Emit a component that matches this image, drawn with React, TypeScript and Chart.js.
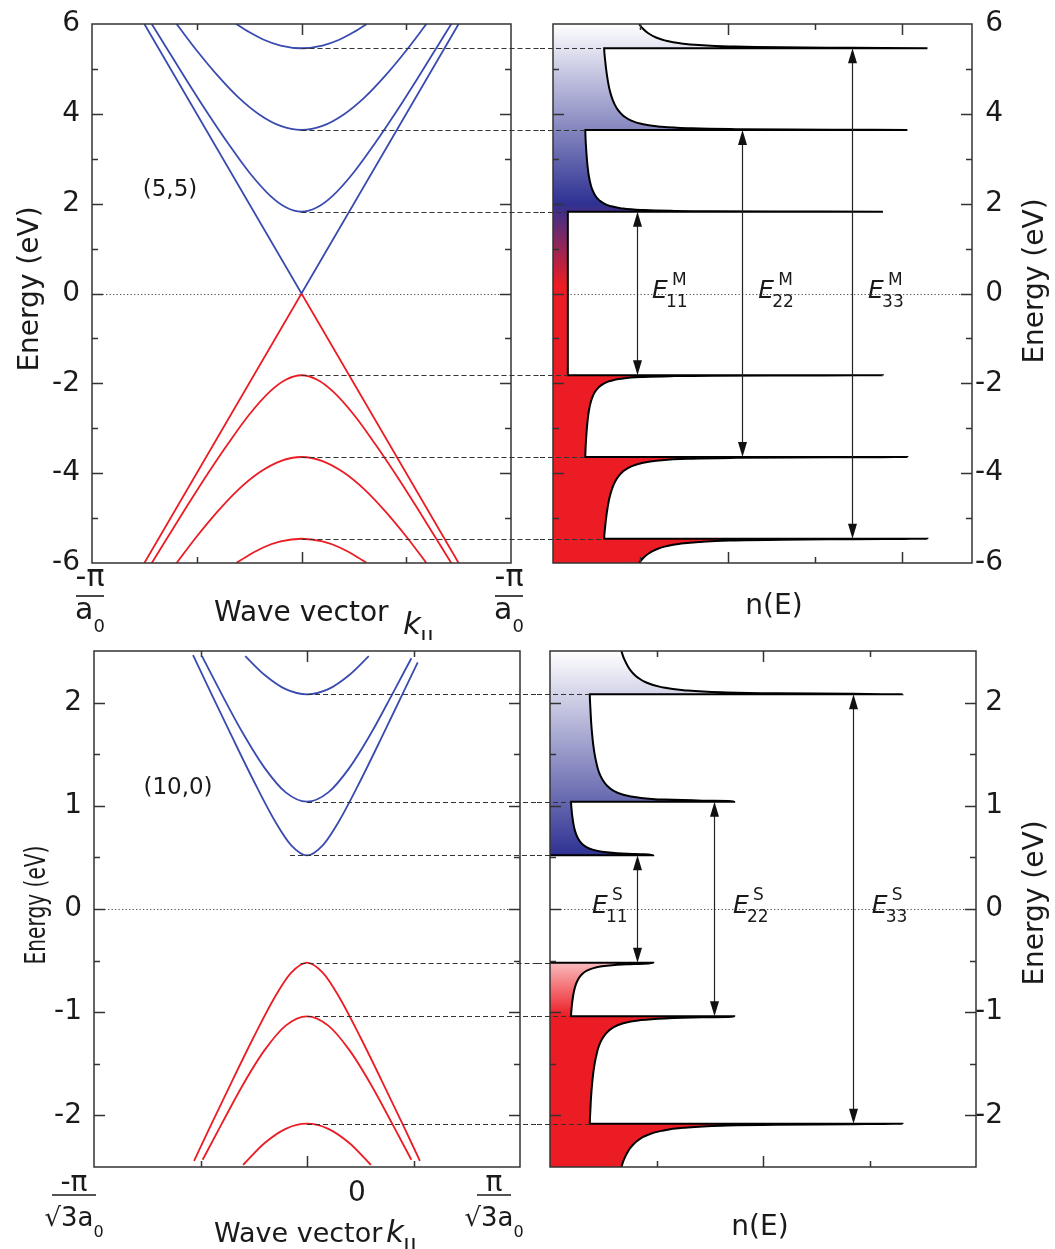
import React, { useEffect, useRef } from 'react';
import { Chart, registerables } from 'chart.js';

Chart.register(...registerables);

// ===================== DATA =====================
// ---- (5,5) tube: band structure (k in units of pi/a0, E in eV) ----
const armTicksY = [-6, -4, -2, 0, 2, 4, 6];
const armC0K = [-0.75, 0, 0.75];
const armC0E = [6.0, 0.0, 6.0];
const armV0K = [-0.75, 0, 0.75];
const armV0E = [-6.0, 0.0, -6.0];
const armC1K = [-0.715, -0.65, -0.55, -0.45, -0.35, -0.25, -0.15, -0.075, 0, 0.075, 0.15, 0.25, 0.35, 0.45, 0.55, 0.65, 0.715];
const armC1E = [6.0, 5.51, 4.76, 4.03, 3.34, 2.70, 2.18, 1.92, 1.82, 1.92, 2.18, 2.70, 3.34, 4.03, 4.76, 5.51, 6.0];
const armV1K = [-0.715, -0.65, -0.55, -0.45, -0.35, -0.25, -0.15, -0.075, 0, 0.075, 0.15, 0.25, 0.35, 0.45, 0.55, 0.65, 0.715];
const armV1E = [-6.0, -5.51, -4.76, -4.03, -3.34, -2.70, -2.18, -1.92, -1.82, -1.92, -2.18, -2.70, -3.34, -4.03, -4.76, -5.51, -6.0];
const armC2K = [-0.596, -0.5, -0.4, -0.3, -0.2, -0.1, 0, 0.1, 0.2, 0.3, 0.4, 0.5, 0.596];
const armC2E = [6.0, 5.41, 4.85, 4.36, 3.98, 3.73, 3.64, 3.73, 3.98, 4.36, 4.85, 5.41, 6.0];
const armV2K = [-0.596, -0.5, -0.4, -0.3, -0.2, -0.1, 0, 0.1, 0.2, 0.3, 0.4, 0.5, 0.596];
const armV2E = [-6.0, -5.41, -4.85, -4.36, -3.98, -3.73, -3.64, -3.73, -3.98, -4.36, -4.85, -5.41, -6.0];
const armC3K = [-0.311, -0.25, -0.18, -0.1, 0, 0.1, 0.18, 0.25, 0.311];
const armC3E = [6.0, 5.82, 5.65, 5.52, 5.46, 5.52, 5.65, 5.82, 6.0];
const armV3K = [-0.311, -0.25, -0.18, -0.1, 0, 0.1, 0.18, 0.25, 0.311];
const armV3E = [-6.0, -5.82, -5.65, -5.52, -5.46, -5.52, -5.65, -5.82, -6.0];

// ---- (5,5) tube: density of states outline (n in arb. units, E in eV) ----
const armDosN = [
  0.986, 1.028, 1.087, 1.18, 1.289, 1.456, 1.674, 2.021, 2.612, 3.448, 4.29,
  0.586, 0.597, 0.615, 0.641, 0.660, 0.686, 0.709, 0.739, 0.782, 0.81, 0.897, 1.009, 1.207, 1.546, 2.03, 2.71, 3.67, 4.06,
  0.37, 0.372, 0.377, 0.388, 0.398, 0.412, 0.435, 0.453, 0.478, 0.517, 0.546, 0.587, 0.652, 0.773, 1.009, 1.346, 1.83, 2.51, 3.78,
  0.17, 0.17,
  3.78, 2.51, 1.83, 1.346, 1.009, 0.773, 0.652, 0.587, 0.546, 0.517, 0.478, 0.453, 0.435, 0.412, 0.398, 0.388, 0.377, 0.372, 0.37,
  4.06, 3.67, 2.71, 2.03, 1.546, 1.207, 1.009, 0.897, 0.81, 0.782, 0.739, 0.709, 0.686, 0.660, 0.641, 0.615, 0.597, 0.586,
  4.29, 3.448, 2.612, 2.021, 1.674, 1.456, 1.289, 1.18, 1.087, 1.028, 0.986,
];
const armDosE = [
  -6.0, -5.9, -5.8, -5.7, -5.63, -5.57, -5.53, -5.5, -5.48, -5.47, -5.46,
  -5.46, -5.2, -4.9, -4.6, -4.45, -4.3, -4.2, -4.1, -4.0, -3.95, -3.85, -3.78, -3.72, -3.68, -3.66, -3.65, -3.645, -3.64,
  -3.64, -3.5, -3.3, -3.0, -2.8, -2.6, -2.4, -2.3, -2.2, -2.1, -2.05, -2.0, -1.95, -1.9, -1.86, -1.84, -1.83, -1.825, -1.82,
  -1.82, 1.82,
  1.82, 1.825, 1.83, 1.84, 1.86, 1.9, 1.95, 2.0, 2.05, 2.1, 2.2, 2.3, 2.4, 2.6, 2.8, 3.0, 3.3, 3.5, 3.64,
  3.64, 3.645, 3.65, 3.66, 3.68, 3.72, 3.78, 3.85, 3.95, 4.0, 4.1, 4.2, 4.3, 4.45, 4.6, 4.9, 5.2, 5.46,
  5.46, 5.47, 5.48, 5.5, 5.53, 5.57, 5.63, 5.7, 5.8, 5.9, 6.0,
];
const armEdgeE = [5.46, 3.64, 1.82, -1.82, -3.64, -5.46];
const armEdgeN = [0.586, 0.37, 0.17, 0.17, 0.37, 0.586];
const armArrowN = [0.96, 2.165, 3.425];
const armArrowE = [1.82, 3.64, 5.46];
const armLabelN = [1.134, 2.35, 3.61];
const armLabelSub = ['11', '22', '33'];

// ---- (10,0) tube: band structure (k in units of pi/(sqrt3 a0), E in eV) ----
const zigTicksY = [-2, -1, 0, 1, 2];
const zigC1K = [-0.535, -0.45, -0.35, -0.25, -0.15, -0.075, 0, 0.075, 0.15, 0.25, 0.35, 0.45, 0.52];
const zigC1E = [2.46, 2.09, 1.66, 1.24, 0.85, 0.62, 0.52, 0.62, 0.85, 1.24, 1.66, 2.09, 2.39];
const zigV1K = [-0.53, -0.45, -0.35, -0.25, -0.15, -0.075, 0, 0.075, 0.15, 0.25, 0.35, 0.45, 0.53];
const zigV1E = [-2.44, -2.09, -1.66, -1.24, -0.85, -0.62, -0.52, -0.62, -0.85, -1.24, -1.66, -2.09, -2.44];
const zigC2K = [-0.493, -0.4, -0.3, -0.2, -0.1, 0, 0.1, 0.2, 0.3, 0.4, 0.49];
const zigC2E = [2.45, 2.08, 1.70, 1.37, 1.13, 1.04, 1.13, 1.37, 1.70, 2.08, 2.43];
const zigV2K = [-0.49, -0.4, -0.3, -0.2, -0.1, 0, 0.1, 0.2, 0.3, 0.4, 0.49];
const zigV2E = [-2.43, -2.08, -1.70, -1.37, -1.13, -1.04, -1.13, -1.37, -1.70, -2.08, -2.43];
const zigC3K = [-0.29, -0.2, -0.1, 0, 0.1, 0.2, 0.29];
const zigC3E = [2.45, 2.27, 2.13, 2.08, 2.13, 2.27, 2.45];
const zigV3K = [-0.3, -0.2, -0.1, 0, 0.1, 0.2, 0.3];
const zigV3E = [-2.48, -2.27, -2.13, -2.08, -2.13, -2.27, -2.48];

// ---- (10,0) tube: density of states outline ----
const zigDosCondN = [0, 0.97, 0.882, 0.726, 0.633, 0.488, 0.4, 0.342, 0.313, 0.284, 0.255, 0.237, 0.2245, 0.209, 0.202, 0.1976, 0.197,
  1.73, 1.674, 1.435, 1.078, 0.827, 0.681, 0.591, 0.531, 0.495, 0.47, 0.452, 0.439, 0.419, 0.405, 0.395, 0.387, 0.379, 0.374, 0.374,
  3.31, 2.838, 2.119, 1.611, 1.254, 1.045, 0.893, 0.828, 0.793, 0.758, 0.732, 0.693, 0.67];
const zigDosCondE = [0.52, 0.52, 0.53, 0.535, 0.54, 0.555, 0.575, 0.6, 0.62, 0.65, 0.7, 0.75, 0.8, 0.9, 0.97, 1.03, 1.04,
  1.04, 1.047, 1.05, 1.06, 1.08, 1.11, 1.15, 1.2, 1.25, 1.3, 1.35, 1.4, 1.5, 1.6, 1.7, 1.8, 1.95, 2.07, 2.08,
  2.08, 2.085, 2.09, 2.1, 2.12, 2.15, 2.2, 2.24, 2.27, 2.31, 2.35, 2.43, 2.5];
const zigDosValN = [0.67, 0.693, 0.732, 0.758, 0.793, 0.828, 0.893, 1.045, 1.254, 1.611, 2.119, 2.838, 3.31,
  0.374, 0.374, 0.379, 0.387, 0.395, 0.405, 0.419, 0.439, 0.452, 0.47, 0.495, 0.531, 0.591, 0.681, 0.827, 1.078, 1.435, 1.674, 1.73,
  0.197, 0.1976, 0.202, 0.209, 0.2245, 0.237, 0.255, 0.284, 0.313, 0.342, 0.4, 0.488, 0.633, 0.726, 0.882, 0.97, 0];
const zigDosValE = [-2.5, -2.43, -2.35, -2.31, -2.27, -2.24, -2.2, -2.15, -2.12, -2.1, -2.09, -2.085, -2.08,
  -2.08, -2.07, -1.95, -1.8, -1.7, -1.6, -1.5, -1.4, -1.35, -1.3, -1.25, -1.2, -1.15, -1.11, -1.08, -1.06, -1.05, -1.047, -1.04,
  -1.04, -1.03, -0.97, -0.9, -0.8, -0.75, -0.7, -0.65, -0.62, -0.6, -0.575, -0.555, -0.54, -0.535, -0.53, -0.52, -0.52];
const zigEdgeE = [2.08, 1.04, 0.52, -0.52, -1.04, -2.08];
const zigEdgeN = [0.374, 0.197, 0, 0, 0.197, 0.374];
const zigEdgeK = [0, 0, -0.08, -0.03, 0, 0];
const zigArrowN = [0.817, 1.54, 2.845];
const zigArrowE = [0.52, 1.04, 2.08];
const zigLabelN = [0.394, 1.718, 3.02];
const zigLabelSub = ['11', '22', '33'];

// ===================== STYLE =====================
const FONT = '"DejaVu Sans", "Liberation Sans", sans-serif';
const INK = '#1a1a1a';
const BLUE = '#3a4bb0';
const RED = '#ec1c24';
const NAVY = '#2e3192';

const pts = (xs: number[], ys: number[]) => xs.map((v, i) => ({ x: v, y: ys[i] }));

function band(xs: number[], ys: number[], color: string, straight = false) {
  return {
    data: pts(xs, ys),
    borderColor: color,
    borderWidth: 1.8,
    pointRadius: 0,
    fill: false,
    tension: 0,
    cubicInterpolationMode: straight ? 'default' : 'monotone',
  };
}

function gradient(stopsE: number[], stopsC: string[]) {
  return (c: any) => {
    const chart = c.chart;
    const { ctx, chartArea, scales } = chart;
    if (!chartArea) return 'rgba(0,0,0,0)';
    const y = scales.y;
    const g = ctx.createLinearGradient(0, chartArea.top, 0, chartArea.bottom);
    const h = chartArea.bottom - chartArea.top;
    stopsE.forEach((e, i) => {
      const off = Math.min(1, Math.max(0, (y.getPixelForValue(e) - chartArea.top) / h));
      g.addColorStop(off, stopsC[i]);
    });
    return g;
  };
}

function txt(ctx: any, s: string, x: number, y: number, size: number, o: any = {}) {
  ctx.save();
  ctx.font = `${o.italic ? 'italic ' : ''}${o.bold ? 'bold ' : ''}${size}px ${FONT}`;
  ctx.fillStyle = INK;
  ctx.textAlign = o.align || 'left';
  ctx.textBaseline = o.baseline || 'alphabetic';
  ctx.translate(x, y);
  if (o.rot) ctx.rotate(o.rot);
  if (o.sx) ctx.scale(o.sx, 1);
  ctx.fillText(s, 0, 0);
  ctx.restore();
}

function frac(ctx: any, cx: number, barY: number, half: number, num: string, den: string, sub: string, f: any) {
  txt(ctx, num, cx, barY + f.numDy, f.numSize, { align: 'center' });
  ctx.save();
  ctx.strokeStyle = INK;
  ctx.lineWidth = 1.6;
  ctx.beginPath();
  ctx.moveTo(cx - half, barY);
  ctx.lineTo(cx + half, barY);
  ctx.stroke();
  ctx.font = `${f.denSize}px ${FONT}`;
  const wd = ctx.measureText(den).width;
  ctx.font = `${f.subSize}px ${FONT}`;
  const ws = ctx.measureText(sub).width;
  ctx.restore();
  const x0 = cx - (wd + ws) / 2;
  txt(ctx, den, x0, barY + f.denDy, f.denSize);
  txt(ctx, sub, x0 + wd, barY + f.subDy, f.subSize);
}

function eLabel(ctx: any, xl: number, base: number, sup: string, sub: string) {
  txt(ctx, 'E', xl, base, 25, { italic: true });
  txt(ctx, sup, xl + 20, base - 13, 17);
  txt(ctx, sub, xl + 14, base + 9, 17);
}

function decor(p: any) {
  return {
    id: 'decor',
    beforeDatasetsDraw(chart: any) {
      const { ctx, chartArea: a, scales } = chart;
      const y0 = Math.round(scales.y.getPixelForValue(0)) + 0.5;
      ctx.save();
      ctx.strokeStyle = '#555';
      ctx.lineWidth = 1;
      ctx.setLineDash([1.3, 2.2]);
      ctx.beginPath();
      ctx.moveTo(a.left, y0);
      ctx.lineTo(a.right, y0);
      ctx.stroke();
      ctx.restore();
    },
    afterDatasetsDraw(chart: any) {
      const { ctx, scales: { x, y } } = chart;
      const W = chart.width;
      ctx.save();
      ctx.strokeStyle = '#333';
      ctx.lineWidth = 1;
      ctx.setLineDash([5, 3]);
      (p.dashes || []).forEach((d: any) => {
        const py = Math.round(y.getPixelForValue(d.e)) + 0.5;
        const x1 = d.from === null ? 0 : x.getPixelForValue(d.from);
        const x2 = d.to === null ? W : x.getPixelForValue(d.to);
        ctx.beginPath();
        ctx.moveTo(x1, py);
        ctx.lineTo(x2, py);
        ctx.stroke();
      });
      ctx.setLineDash([]);
      (p.arrows || []).forEach((ar: any) => {
        const px = Math.round(x.getPixelForValue(ar.n)) + 0.5;
        const yt = y.getPixelForValue(ar.e);
        const yb = y.getPixelForValue(-ar.e);
        const hl = 15, hw = 4.5;
        ctx.strokeStyle = '#222';
        ctx.fillStyle = '#111';
        ctx.lineWidth = 1.2;
        ctx.beginPath();
        ctx.moveTo(px, yt + hl - 2);
        ctx.lineTo(px, yb - hl + 2);
        ctx.stroke();
        ctx.beginPath();
        ctx.moveTo(px, yt);
        ctx.lineTo(px - hw, yt + hl);
        ctx.lineTo(px + hw, yt + hl);
        ctx.closePath();
        ctx.fill();
        ctx.beginPath();
        ctx.moveTo(px, yb);
        ctx.lineTo(px - hw, yb - hl);
        ctx.lineTo(px + hw, yb - hl);
        ctx.closePath();
        ctx.fill();
      });
      ctx.restore();
    },
    afterDraw(chart: any) {
      const { ctx, chartArea: a, scales: { x, y } } = chart;
      ctx.save();
      ctx.strokeStyle = '#333';
      ctx.lineWidth = 1.5;
      ctx.strokeRect(a.left, a.top, a.right - a.left, a.bottom - a.top);
      const t = p.ticks;
      const yt = (v: number, len: number) => {
        const py = Math.round(y.getPixelForValue(v)) + 0.5;
        ctx.beginPath();
        ctx.moveTo(a.left, py); ctx.lineTo(a.left + len, py);
        ctx.moveTo(a.right, py); ctx.lineTo(a.right - len, py);
        ctx.stroke();
      };
      const xt = (v: number, len: number) => {
        const px = Math.round(x.getPixelForValue(v)) + 0.5;
        ctx.beginPath();
        ctx.moveTo(px, a.top); ctx.lineTo(px, a.top + len);
        ctx.moveTo(px, a.bottom); ctx.lineTo(px, a.bottom - len);
        ctx.stroke();
      };
      t.yMajor.forEach((v: number) => yt(v, 11));
      t.yMinor.forEach((v: number) => yt(v, 6));
      t.xMajor.forEach((v: number) => xt(v, 11));
      t.xMinor.forEach((v: number) => xt(v, 6));
      ctx.restore();
      if (p.texts) p.texts(ctx, chart, (v: number) => v - p.ox, (v: number) => v - p.oy);
    },
  };
}

function yAxis(min: number, max: number, ticks: number[], position: string, width: number) {
  return {
    type: 'linear',
    min,
    max,
    position,
    grid: { display: false, drawTicks: false },
    border: { display: false },
    ticks: {
      color: INK,
      font: { family: FONT, size: 28 },
      padding: 12,
      crossAlign: position === 'left' ? 'near' : 'far',
      callback: (v: number) => String(v),
    },
    afterBuildTicks: (s: any) => { s.ticks = ticks.map((v) => ({ value: v })); },
    afterFit: (s: any) => { s.width = width; s.paddingTop = 0; s.paddingBottom = 0; },
  };
}

function baseOptions(padding: any, scales: any, extra: any = {}) {
  return {
    animation: false,
    responsive: false,
    maintainAspectRatio: false,
    devicePixelRatio: 1,
    events: [],
    layout: { padding },
    plugins: { legend: { display: false }, tooltip: { enabled: false }, title: { display: false } },
    scales,
    ...extra,
  };
}

function kLabel(ctx: any, X: any, Y: any, x: number, base: number) {
  txt(ctx, 'k', X(x), Y(base), 31, { italic: true });
  txt(ctx, '||', X(x + 17), Y(base + 11), 19, { bold: true });
}

// ----- chart configs -----
function cfgTL(): any {
  return {
    type: 'line',
    data: {
      datasets: [
        band(armC0K, armC0E, BLUE, true), band(armC1K, armC1E, BLUE), band(armC2K, armC2E, BLUE), band(armC3K, armC3E, BLUE),
        band(armV0K, armV0E, RED, true), band(armV1K, armV1E, RED), band(armV2K, armV2E, RED), band(armV3K, armV3E, RED),
      ],
    },
    options: baseOptions({ left: 0, top: 24, right: 29, bottom: 77 }, {
      x: { type: 'linear', min: -1, max: 1, display: false },
      y: yAxis(-6, 6, armTicksY, 'left', 92),
    }),
    plugins: [decor({
      ox: 0, oy: 0,
      ticks: { yMajor: [-4, -2, 0, 2, 4], yMinor: [-5, -3, -1, 1, 3, 5], xMajor: [0], xMinor: [-0.5, 0.5] },
      dashes: armEdgeE.map((e) => ({ e, from: 0, to: null })),
      texts: (ctx: any, chart: any, X: any, Y: any) => {
        txt(ctx, 'Energy (eV)', X(31), Y(289), 28, { align: 'center', baseline: 'middle', rot: -Math.PI / 2 });
        const f = { numSize: 30, numDy: -10, denSize: 30, denDy: 23, subSize: 18, subDy: 36 };
        frac(ctx, X(90), Y(596), 14, '-\u03c0', 'a', '0', f);
        frac(ctx, X(509), Y(596), 14, '-\u03c0', 'a', '0', f);
        txt(ctx, 'Wave vector', X(214), Y(621), 28);
        kLabel(ctx, X, Y, 403, 634);
        txt(ctx, '(5,5)', X(170), Y(196), 23, { align: 'center' });
      },
    })],
  };
}

function cfgTR(): any {
  return {
    type: 'line',
    data: {
      datasets: [{
        data: pts(armDosN, armDosE),
        borderColor: '#000',
        borderWidth: 2,
        pointRadius: 0,
        tension: 0,
        cubicInterpolationMode: 'monotone',
        fill: { value: 0 },
        backgroundColor: gradient([6, 2.0, 0.2, -6], ['#ffffff', NAVY, RED, RED]),
      }],
    },
    options: baseOptions({ left: 13, top: 24, right: 52, bottom: 77 }, {
      x: { type: 'linear', min: 0, max: 4.8, display: false },
      y: yAxis(-6, 6, armTicksY, 'right', 31),
    }, { indexAxis: 'y' }),
    plugins: [decor({
      ox: 540, oy: 0,
      ticks: { yMajor: [-4, -2, 0, 2, 4], yMinor: [-5, -3, -1, 1, 3, 5], xMajor: [2, 4], xMinor: [1, 3] },
      dashes: armEdgeE.map((e, i) => ({ e, from: null, to: armEdgeN[i] })),
      arrows: armArrowN.map((n, i) => ({ n, e: armArrowE[i] })),
      texts: (ctx: any, chart: any, X: any, Y: any) => {
        const x = chart.scales.x;
        armLabelN.forEach((n, i) => eLabel(ctx, x.getPixelForValue(n), Y(298), 'M', armLabelSub[i]));
        txt(ctx, 'n(E)', X(774), Y(614), 28, { align: 'center' });
        txt(ctx, 'Energy (eV)', X(1036), Y(281), 28, { align: 'center', baseline: 'middle', rot: -Math.PI / 2 });
      },
    })],
  };
}

function cfgBL(): any {
  return {
    type: 'line',
    data: {
      datasets: [
        band(zigC1K, zigC1E, BLUE), band(zigC2K, zigC2E, BLUE), band(zigC3K, zigC3E, BLUE),
        band(zigV1K, zigV1E, RED), band(zigV2K, zigV2E, RED), band(zigV3K, zigV3E, RED),
      ],
    },
    options: baseOptions({ left: 0, top: 11, right: 17, bottom: 82 }, {
      x: { type: 'linear', min: -1, max: 1, display: false },
      y: yAxis(-2.5, 2.5, zigTicksY, 'left', 94),
    }),
    plugins: [decor({
      ox: 0, oy: 640,
      ticks: { yMajor: [-2, -1, 0, 1, 2], yMinor: [-1.5, -0.5, 0.5, 1.5], xMajor: [0], xMinor: [-0.5, 0.5] },
      dashes: zigEdgeE.map((e, i) => ({ e, from: zigEdgeK[i], to: null })),
      texts: (ctx: any, chart: any, X: any, Y: any) => {
        txt(ctx, 'Energy (eV)', X(38), Y(905), 28, { align: 'center', baseline: 'middle', rot: -Math.PI / 2, sx: 0.72 });
        const f = { numSize: 28, numDy: -4, denSize: 26, denDy: 31, subSize: 16, subDy: 42 };
        frac(ctx, X(74), Y(1195), 22, '-\u03c0', '\u221a3a', '0', f);
        frac(ctx, X(494), Y(1195), 17, '\u03c0', '\u221a3a', '0', f);
        txt(ctx, '0', X(357), Y(1201), 28, { align: 'center' });
        txt(ctx, 'Wave vector', X(214), Y(1242), 27);
        kLabel(ctx, X, Y, 386, 1242);
        txt(ctx, '(10,0)', X(178), Y(794), 23, { align: 'center' });
      },
    })],
  };
}

function cfgBR(): any {
  const common = { borderColor: '#000', borderWidth: 2, pointRadius: 0, tension: 0, cubicInterpolationMode: 'monotone', fill: { value: 0 } };
  return {
    type: 'line',
    data: {
      datasets: [
        { ...common, data: pts(zigDosCondN, zigDosCondE), backgroundColor: gradient([2.5, 0.52], ['#ffffff', NAVY]) },
        { ...common, data: pts(zigDosValN, zigDosValE), backgroundColor: gradient([-0.3, -1.04, -2.5], ['#ffffff', RED, RED]) },
      ],
    },
    options: baseOptions({ left: 13, top: 11, right: 52, bottom: 82 }, {
      x: { type: 'linear', min: 0, max: 4, display: false },
      y: yAxis(-2.5, 2.5, zigTicksY, 'right', 27),
    }, { indexAxis: 'y' }),
    plugins: [decor({
      ox: 537, oy: 640,
      ticks: { yMajor: [-2, -1, 0, 1, 2], yMinor: [-1.5, -0.5, 0.5, 1.5], xMajor: [2], xMinor: [1, 3] },
      dashes: zigEdgeE.map((e, i) => ({ e, from: null, to: zigEdgeN[i] })),
      arrows: zigArrowN.map((n, i) => ({ n, e: zigArrowE[i] })),
      texts: (ctx: any, chart: any, X: any, Y: any) => {
        const x = chart.scales.x;
        zigLabelN.forEach((n, i) => eLabel(ctx, x.getPixelForValue(n), Y(913), 'S', zigLabelSub[i]));
        txt(ctx, 'n(E)', X(760), Y(1235), 28, { align: 'center' });
        txt(ctx, 'Energy (eV)', X(1036), Y(903), 28, { align: 'center', baseline: 'middle', rot: -Math.PI / 2 });
      },
    })],
  };
}

export default function App() {
  const tl = useRef<HTMLCanvasElement>(null);
  const tr = useRef<HTMLCanvasElement>(null);
  const bl = useRef<HTMLCanvasElement>(null);
  const br = useRef<HTMLCanvasElement>(null);

  useEffect(() => {
    const charts = [
      new Chart(tl.current as any, cfgTL()),
      new Chart(tr.current as any, cfgTR()),
      new Chart(bl.current as any, cfgBL()),
      new Chart(br.current as any, cfgBR()),
    ];
    return () => charts.forEach((c) => c.destroy());
  }, []);

  const cv = (left: number, top: number, w: number, h: number) => ({
    position: 'absolute' as const, left, top, width: w, height: h,
  });

  return (
    <div style={{ position: 'absolute', left: 0, top: 0, width: 1055, height: 1249, background: '#fff', overflow: 'hidden' }}>
      <canvas ref={tl} width={540} height={640} style={cv(0, 0, 540, 640)} />
      <canvas ref={tr} width={515} height={640} style={cv(540, 0, 515, 640)} />
      <canvas ref={bl} width={537} height={609} style={cv(0, 640, 537, 609)} />
      <canvas ref={br} width={518} height={609} style={cv(537, 640, 518, 609)} />
    </div>
  );
}
